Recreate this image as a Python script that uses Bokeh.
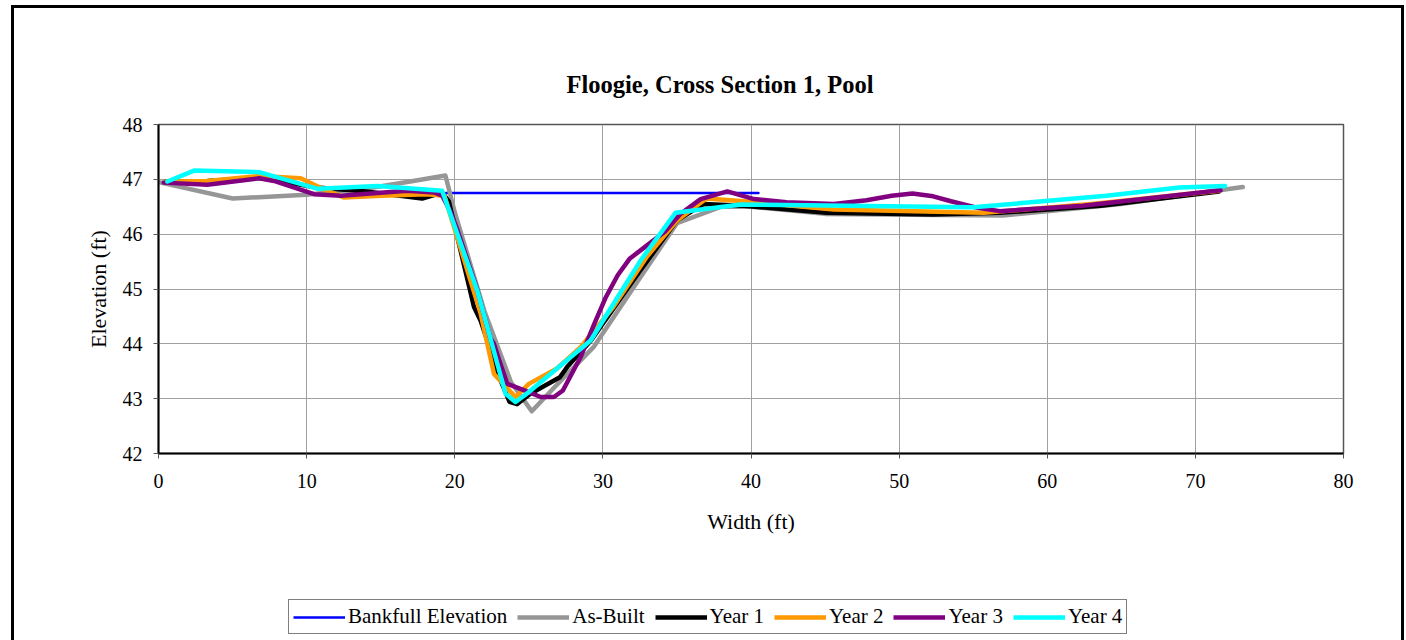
from bokeh.plotting import figure
from bokeh.layouts import column
from bokeh.models import Range1d, FixedTicker, Legend, LegendItem
from bokeh.embed import file_html
from bokeh.resources import INLINE

# ---------------- data ----------------
bank_x = [19.4, 40.5]
bank_y = [46.75, 46.75]

asb_x = [0.0, 5.0, 10.0, 14.5, 17.2, 19.37, 20.0, 22.0, 23.8, 25.2, 26.7, 29.4, 32.0, 35.0, 38.0, 40.0, 45.0, 57.0, 65.0, 73.2]
asb_y = [46.95, 46.65, 46.72, 46.85, 46.97, 47.07, 46.4, 44.6, 43.3, 42.77, 43.2, 43.95, 45.0, 46.2, 46.5, 46.5, 46.37, 46.34, 46.55, 46.86]

y1_x = [0.5, 3.3, 6.8, 10.7, 14.0, 17.8, 19.15, 19.6, 21.3, 21.75, 23.1, 23.7, 24.2, 25.1, 27.1, 27.6, 29.2, 32.5, 35.0, 36.8, 39.5, 45.1, 52.3, 56.8, 63.6, 71.6]
y1_y = [46.96, 46.97, 47.03, 46.85, 46.78, 46.65, 46.76, 46.6, 44.67, 44.42, 43.33, 42.94, 42.9, 43.09, 43.39, 43.58, 44.06, 45.33, 46.25, 46.55, 46.52, 46.39, 46.36, 46.39, 46.52, 46.78]

y2_x = [0.5, 3.3, 6.8, 9.6, 10.9, 12.5, 15.0, 18.1, 19.3, 21.75, 22.65, 24.1, 25.0, 26.9, 28.5, 30.7, 33.0, 35.0, 37.0, 39.5, 45.6, 55.7, 63.0, 71.6]
y2_y = [46.96, 46.97, 47.06, 47.02, 46.85, 46.67, 46.7, 46.73, 46.7, 44.55, 43.45, 43.03, 43.27, 43.55, 43.94, 44.67, 45.6, 46.25, 46.65, 46.6, 46.45, 46.39, 46.55, 46.79]

y3_x = [0.35, 3.3, 6.8, 7.8, 10.5, 12.3, 16.8, 18.6, 19.15, 19.7, 20.2, 21.5, 22.4, 22.65, 23.0, 23.55, 24.7, 25.8, 26.7, 27.3, 28.5, 29.4, 30.2, 31.0, 31.8, 33.0, 34.2, 35.2, 36.6, 38.4, 40.2, 42.4, 45.6, 47.8, 49.5, 50.9, 52.3, 53.5, 55.3, 56.8, 62.4, 71.7]
y3_y = [46.94, 46.9, 47.02, 46.97, 46.73, 46.7, 46.79, 46.76, 46.7, 46.42, 46.06, 45.0, 44.1, 44.0, 43.7, 43.27, 43.15, 43.03, 43.03, 43.15, 43.76, 44.35, 44.85, 45.25, 45.55, 45.8, 46.05, 46.36, 46.64, 46.78, 46.64, 46.58, 46.55, 46.62, 46.7, 46.74, 46.69, 46.6, 46.48, 46.42, 46.52, 46.8]

y4_x = [0.6, 2.4, 6.8, 10.7, 14.8, 19.15, 21.52, 23.43, 24.1, 25.0, 29.17, 32.55, 34.9, 39.3, 55.0, 64.0, 68.9, 72.0]
y4_y = [46.96, 47.16, 47.13, 46.83, 46.88, 46.79, 44.97, 43.09, 42.94, 43.12, 44.06, 45.52, 46.39, 46.54, 46.49, 46.7, 46.85, 46.88]

series_names = ["Bankfull Elevation", "As-Built", "Year 1", "Year 2", "Year 3", "Year 4"]
series_colors = ["#0000ff", "#969696", "black", "#ff9900", "#800080", "#00ffff"]
series_widths = [2.5, 4.5, 4.5, 4.5, 4.5, 4.5]
series_xy = [(bank_x, bank_y), (asb_x, asb_y), (y1_x, y1_y), (y2_x, y2_y), (y3_x, y3_y), (y4_x, y4_y)]

x_ticks = [0, 10, 20, 30, 40, 50, 60, 70, 80]
y_ticks = [42, 43, 44, 45, 46, 47, 48]

FONT = "Liberation Serif"

# ---------------- main chart ----------------
p = figure(frame_width=1185, frame_height=329, output_backend="svg", toolbar_location=None,
           x_range=Range1d(0, 80), y_range=Range1d(42, 48),
           title="Floogie, Cross Section 1, Pool")
p.min_border_left = 144
p.min_border_right = 58
p.min_border_top = 116
p.min_border_bottom = 100

p.background_fill_color = "white"
p.border_fill_color = "white"
p.outline_line_color = "#555555"
p.outline_line_width = 1.5

p.title.text_font = FONT
p.title.text_font_size = "24.5px"
p.title.text_font_style = "bold"
p.title.text_color = "black"
p.title.align = "left"
p.title.offset = 408
p.title.standoff = 53

for ax in (p.xaxis[0], p.yaxis[0]):
    ax.axis_line_color = "black"
    ax.axis_line_width = 2
    ax.major_tick_in = 0
    ax.major_tick_out = 5
    ax.major_tick_line_color = "#555555"
    ax.minor_tick_line_color = None
    ax.major_label_text_font = FONT
    ax.major_label_text_font_size = "20px"
    ax.major_label_text_color = "black"
    ax.axis_label_text_font = FONT
    ax.axis_label_text_font_size = "22px"
    ax.axis_label_text_font_style = "normal"
    ax.axis_label_text_color = "black"

p.xaxis.ticker = FixedTicker(ticks=x_ticks)
p.yaxis.ticker = FixedTicker(ticks=y_ticks)
p.xaxis.axis_label = "Width (ft)"
p.yaxis.axis_label = "Elevation (ft)"
p.xaxis.major_label_standoff = 15
p.xaxis.axis_label_standoff = 18
p.yaxis.major_label_standoff = 11
p.yaxis.axis_label_standoff = 9

p.xgrid.ticker = FixedTicker(ticks=x_ticks)
p.ygrid.ticker = FixedTicker(ticks=y_ticks)
p.xgrid.grid_line_color = "#a0a0a0"
p.ygrid.grid_line_color = "#a0a0a0"
p.xgrid.grid_line_width = 1
p.ygrid.grid_line_width = 1

for (xs, ys), c, w in zip(series_xy, series_colors, series_widths):
    p.line(xs, ys, line_color=c, line_width=w, line_join="round", line_cap="round")

# ---------------- legend strip (separate canvas under the chart) ----------------
# the strip's ranges lie far outside the data, so its proxy lines stay out of view
q = figure(width=1387, height=87, output_backend="svg", toolbar_location=None,
           x_range=Range1d(0, 1), y_range=Range1d(0, 1),
           x_axis_location=None, y_axis_location=None)
q.min_border_left = 0
q.min_border_right = 0
q.min_border_top = 0
q.min_border_bottom = 0
q.xgrid.visible = False
q.ygrid.visible = False
q.outline_line_color = None
q.background_fill_color = "white"
q.border_fill_color = "white"

items = []
for name, (xs, ys), c, w in zip(series_names, series_xy, series_colors, series_widths):
    r = q.line(xs, ys, line_color=c, line_width=w)
    items.append(LegendItem(label=name, renderers=[r]))

legend = Legend(items=items, orientation="horizontal", location=(130, 6))
legend.label_text_font = FONT
legend.label_text_font_size = "21px"
legend.label_text_color = "black"
legend.glyph_width = 52
legend.glyph_height = 22
legend.label_standoff = 3
legend.spacing = 10
legend.padding = 4
legend.margin = 0
legend.border_line_color = "black"
legend.border_line_width = 1
legend.background_fill_color = "white"
legend.background_fill_alpha = 1
q.add_layout(legend)

layout = column(p, q, spacing=0,
                styles={"border-left": "3px solid black", "border-top": "3px solid black",
                        "border-right": "3px solid black",
                        "margin-left": "11px", "margin-top": "5px"})

open("out.html", "w").write(file_html(layout, INLINE))
